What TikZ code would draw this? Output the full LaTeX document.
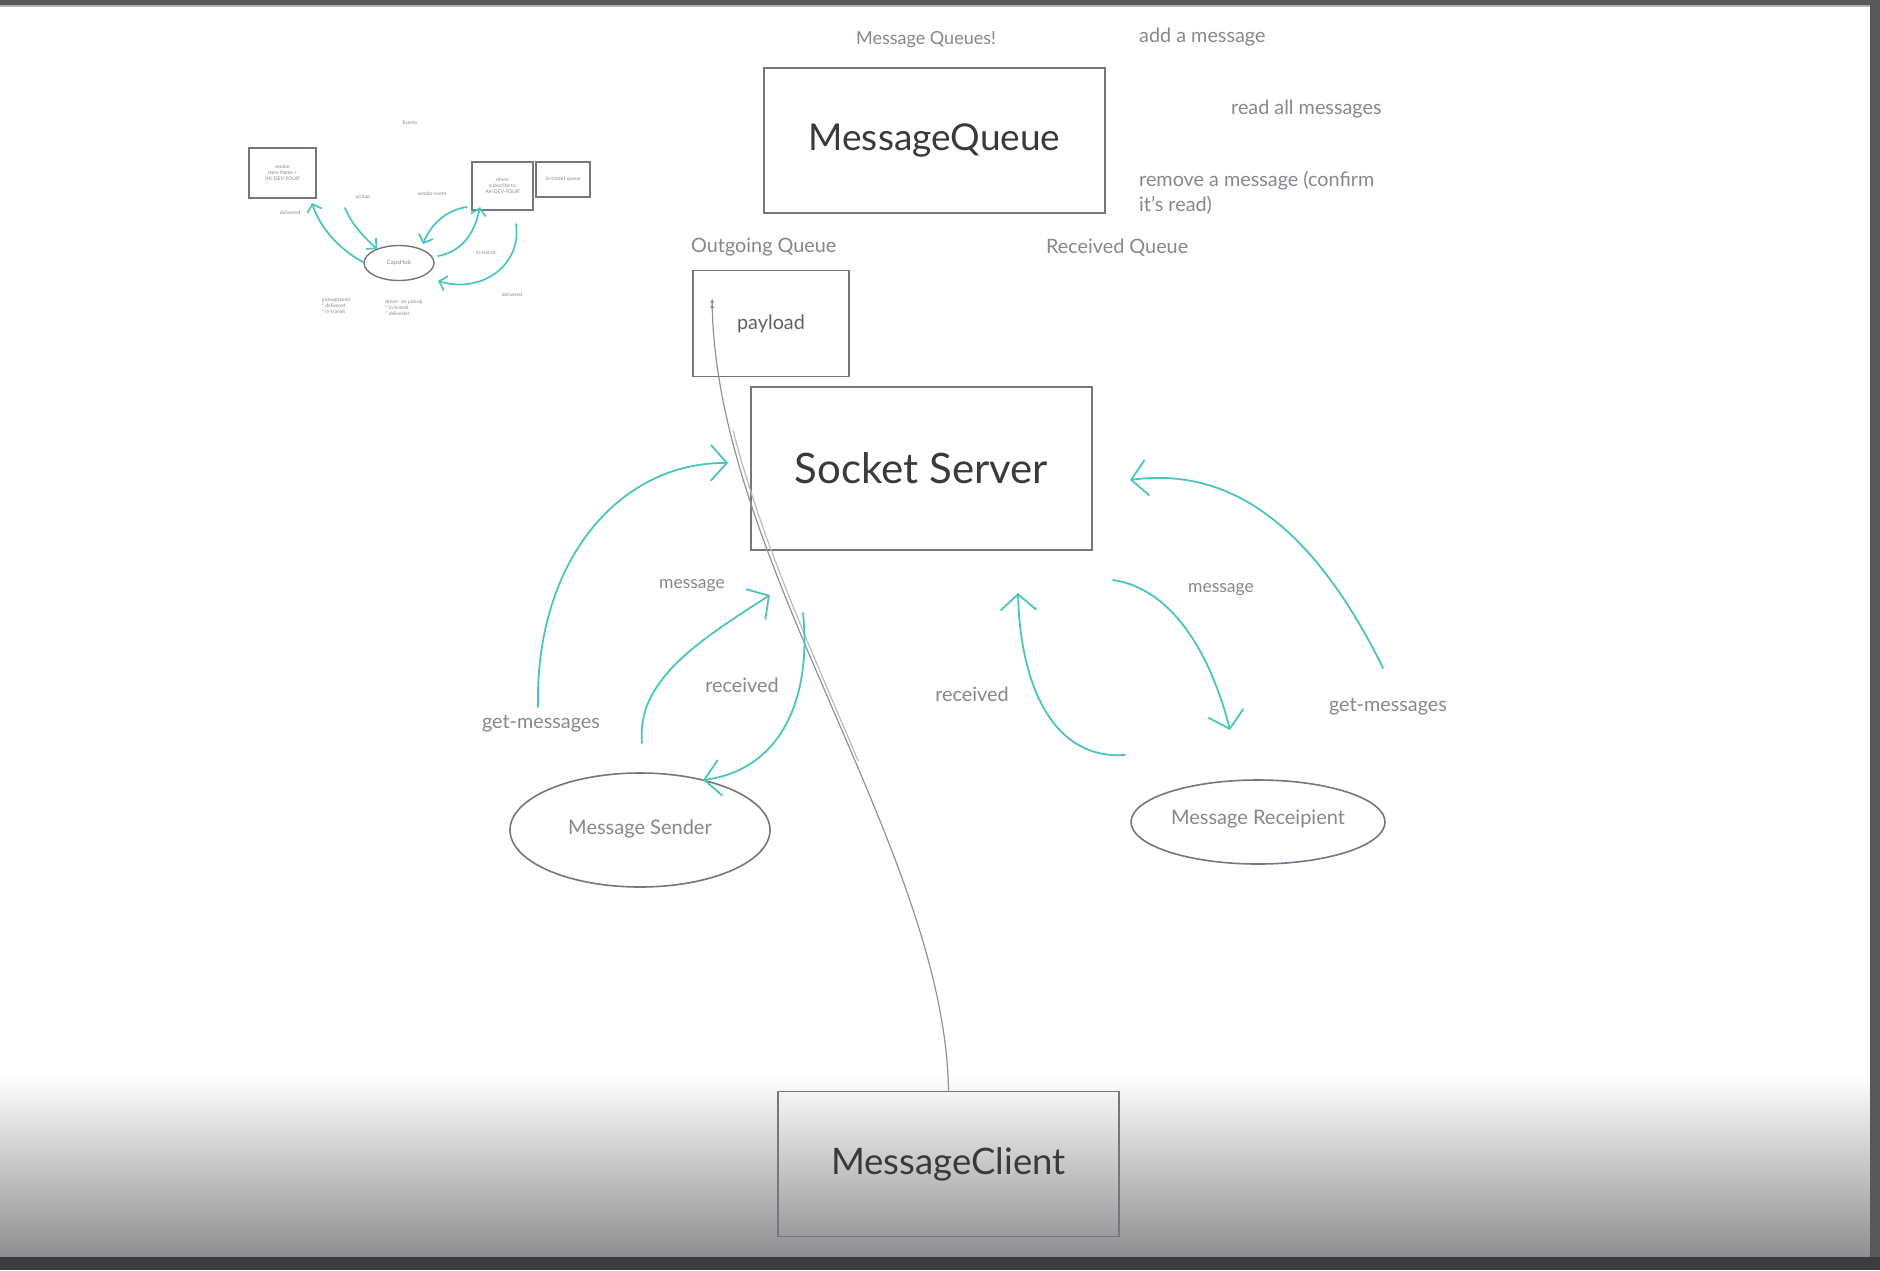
\documentclass[tikz,border=0pt]{standalone}
\usepackage{fontspec}
\setmainfont{Lato}
\usetikzlibrary{arrows.meta,shapes.geometric}
\definecolor{tealc}{RGB}{74,198,188}
\definecolor{boxgray}{RGB}{118,118,128}
\definecolor{lblgray}{RGB}{135,135,145}
\definecolor{titlegray}{RGB}{58,58,62}
\definecolor{framegray}{RGB}{88,88,90}
\definecolor{bottomgray}{RGB}{60,60,62}
\definecolor{shadegray}{RGB}{142,142,144}
\begin{document}
\begin{tikzpicture}[x=1pt,y=-1pt,
  box/.style={draw=boxgray, line width=1.6pt, rectangle, inner sep=0pt},
  ell/.style={draw=boxgray, line width=1.6pt, ellipse, inner sep=0pt},
  smallbox/.style={draw=boxgray, line width=2.2pt, rectangle, inner sep=0pt, align=center, text=lblgray, font=\fontsize{5}{6}\selectfont},
  lab/.style={text=lblgray, font=\fontsize{19.8}{25}\selectfont, inner sep=0pt},
  msglab/.style={text=lblgray, font=\fontsize{17.5}{20}\selectfont, inner sep=0pt},
  tiny/.style={text=lblgray, font=\fontsize{5}{6}\selectfont, inner sep=0pt, align=left},
  big/.style={text=titlegray},
  tarrow/.style={draw=tealc, line width=1.8pt, line cap=round, -{Straight Barb[length=16pt,width=36pt,line width=1.8pt]}},
  tsmall/.style={draw=tealc, line width=1.7pt, line cap=round, -{Straight Barb[length=7pt,width=15pt,line width=1.7pt]}}
]
\useasboundingbox (0,0) rectangle (1880,1270);
% background and frame
\fill[white] (0,0) rectangle (1880,1270);
\shade[top color=white, bottom color=shadegray] (0,1075) rectangle (1870,1257);
\fill[framegray] (0,0) rectangle (1880,5);
\fill[gray!60] (0,5) rectangle (1870,6.5);
\fill[framegray] (1870,0) rectangle (1880,1270);
\fill[bottomgray] (0,1257) rectangle (1880,1270);

% ---------- small sketch (top left) ----------
\node[tiny] (evt) at (410,123) {Events};
\node[smallbox, minimum width=67pt, minimum height=50pt] (vbox) at (282.5,173) {vendor\\store Name +\\'AK-DEV-FOUR'};
\node[smallbox, minimum width=61pt, minimum height=48pt] (dbox) at (502.5,186) {driver\\subscribe to\\'AK-DEV-FOUR'};
\node[smallbox, minimum width=54pt, minimum height=35pt] (qbox) at (563,179.5) {in-transit queue};
\node[ell, line width=1.4pt, minimum width=70pt, minimum height=35pt, text=lblgray, font=\fontsize{6}{7}\selectfont] (hub) at (399,263) {CapsHub};

\coordinate (sa0) at (363,262);
\coordinate (sa1) at (312,203);
\coordinate (sb0) at (345,208);
\coordinate (sb1) at (377,249);
\coordinate (sc0) at (467,207);
\coordinate (sc1) at (423,244);
\coordinate (sd0) at (438,256);
\coordinate (sd1) at (480,207);
\coordinate (se0) at (516,224);
\coordinate (se1) at (438,281);
\draw[tsmall] (sa0) .. controls (340,250) and (320,228) .. (sa1);
\draw[tsmall] (sb0) .. controls (352,225) and (365,238) .. (sb1);
\draw[tsmall] (sc0) .. controls (445,210) and (430,226) .. (sc1);
\draw[tsmall] (sd0) .. controls (460,252) and (474,236) .. (sd1);
\draw[tsmall] (se0) .. controls (522,265) and (482,294) .. (se1);

\node[tiny] (la) at (290,213) {delivered};
\node[tiny] (lb) at (363,197) {pickup};
\node[tiny] (lc) at (432,194) {vendor event};
\node[tiny] (ld) at (486,253) {in-transit};
\node[tiny] (le) at (512,295) {delivered};
\node[tiny] (lf) at (336,306) {pickup(store)\\* delivered\\* in-transit};
\node[tiny] (lg) at (404,308) {driver: on pickup\\* in-transit\\* delivered};

% ---------- main diagram ----------
\node[text=lblgray, font=\fontsize{18}{20}\selectfont] (mqtitle) at (926,40) {Message Queues!};
\node[box, minimum width=341pt, minimum height=145pt, big, font=\fontsize{37}{40}\selectfont] (mq) at (934.5,140.5) {MessageQueue};
\node[lab, anchor=west] (add) at (1139,37) {add a message};
\node[lab, anchor=west] (read) at (1231,109) {read all messages};
\node[lab, anchor=west, align=left] (rem) at (1139,192.5) {remove a message (confirm\\it's read)};
\node[lab, anchor=west] (outq) at (691,247) {Outgoing Queue};
\node[lab, anchor=west] (recq) at (1046,248) {Received Queue};
\node[box, minimum width=156pt, minimum height=106pt, text=titlegray!80, font=\fontsize{19.8}{22}\selectfont] (payload) at (771,323.5) {payload};
\node[box, minimum width=341pt, minimum height=163pt, big, font=\fontsize{42}{44}\selectfont] (ss) at (921.5,468.5) {Socket Server};
\node[ell, minimum width=260pt, minimum height=114pt, text=lblgray, font=\fontsize{20}{22}\selectfont] (sender) at (640,830) {\raisebox{5pt}{Message Sender}};
\node[ell, minimum width=254pt, minimum height=84pt, text=lblgray, font=\fontsize{20}{22}\selectfont] (recip) at (1258,822) {\raisebox{9pt}{Message Receipient}};
\node[box, minimum width=341pt, minimum height=145pt, big, font=\fontsize{36.5}{40}\selectfont] (mc) at (948.5,1164) {MessageClient};

% labels
\node[msglab] (lmsg) at (692,586) {message};
\node[lab] (lrec) at (742,685) {received};
\node[lab] (lget) at (541,724) {get-messages};
\node[msglab] (rmsg) at (1221,590) {message};
\node[lab] (rrec) at (972,694) {received};
\node[lab] (rget) at (1388,707) {get-messages};

% grey connector from MessageClient into payload
\coordinate (pl) at (712,288);
\draw[boxgray!80, line width=1.2pt, -{Latex[length=5pt,width=4pt] Latex[length=5pt,width=4pt,sep=10pt]}]
  (mc.north) .. controls (945,850) and (715,560) .. (pl);
\begin{scope}
  \clip (700,430) rectangle (880,760);
  \draw[boxgray!50, line width=1.2pt, xshift=3.5pt]
    (mc.north) .. controls (945,850) and (715,560) .. (pl);
\end{scope}

% teal arrows
\coordinate (g0) at (538,707);
\coordinate (g1) at (728,463);
\coordinate (m0) at (642,743);
\coordinate (m1) at (770,595);
\coordinate (r0) at (803,613);
\coordinate (r1) at (703,780);
\coordinate (M0) at (1113,580);
\coordinate (M1) at (1230,730);
\coordinate (R0) at (1125,755);
\coordinate (R1) at (1018,593);
\coordinate (G0) at (1383,668);
\coordinate (G1) at (1130,480);
\draw[tarrow] (g0) .. controls (535,560) and (620,462) .. (g1);
\draw[tarrow] (m0) .. controls (636,680) and (700,640) .. (m1);
\draw[tarrow] (r0) .. controls (812,700) and (780,770) .. (r1);
\draw[tarrow] (M0) .. controls (1180,590) and (1215,670) .. (M1);
\draw[tarrow] (R0) .. controls (1050,760) and (1020,680) .. (R1);
\draw[tarrow] (G0) .. controls (1320,540) and (1240,465) .. (G1);
\end{tikzpicture}
\end{document}
